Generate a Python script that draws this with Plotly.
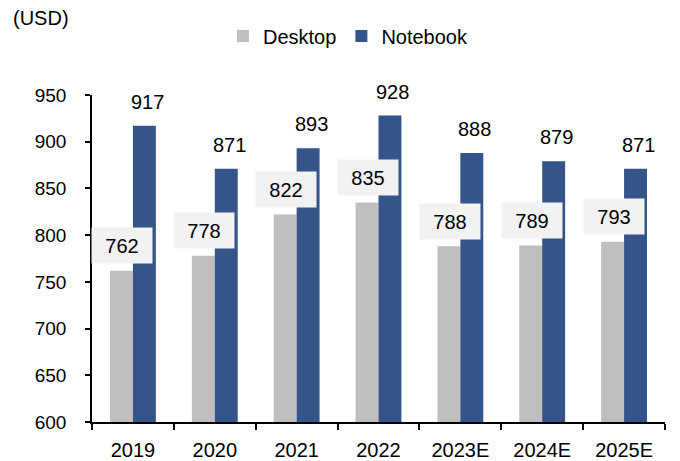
import plotly.graph_objects as go

categories = ["2019", "2020", "2021", "2022", "2023E", "2024E", "2025E"]
desktop = [762, 778, 822, 835, 788, 789, 793]
notebook = [917, 871, 893, 928, 888, 879, 871]
yticks = [600, 650, 700, 750, 800, 850, 900, 950]

FONT = "Liberation Sans, Arial, sans-serif"
C_DESK = "#bfbfbf"
C_NOTE = "#34548a"
BW = 0.28

xs = list(range(len(categories)))

fig = go.Figure()
fig.add_trace(go.Bar(name="Desktop", x=xs, y=desktop, marker_color=C_DESK,
                     marker_line_width=0, width=BW, offset=-BW))
fig.add_trace(go.Bar(name="Notebook", x=xs, y=notebook, marker_color=C_NOTE,
                     marker_line_width=0, width=BW, offset=0))

plot_l, plot_r, plot_t, plot_b = 92, 665, 95, 422
pw, ph = plot_r - plot_l, plot_b - plot_t

ann = []
for i, v in zip(xs, desktop):
    ann.append(dict(x=i - BW / 2, y=v, xref="x", yref="y", text=str(v), showarrow=False,
                    xshift=1, yshift=25, yanchor="middle", xanchor="center",
                    bgcolor="#f2f2f2", width=58, height=33,
                    font=dict(size=20, color="black", family=FONT)))
for i, v in zip(xs, notebook):
    ann.append(dict(x=i + BW / 2, y=v, xref="x", yref="y", text=str(v), showarrow=False,
                    xshift=3, yshift=24, yanchor="middle", xanchor="center",
                    font=dict(size=20, color="black", family=FONT)))
ann.append(dict(x=(11 - plot_l) / pw, y=(plot_b - 18) / ph, xref="paper", yref="paper",
                text="(USD)", showarrow=False, xanchor="left", yanchor="middle",
                font=dict(size=20, color="black", family=FONT)))

fig.update_layout(
    width=680, height=461,
    margin=dict(l=plot_l, r=680 - plot_r, t=plot_t, b=461 - plot_b, pad=0,
                autoexpand=False),
    paper_bgcolor="white", plot_bgcolor="white",
    font=dict(family=FONT, size=20, color="black"),
    showlegend=True,
    legend=dict(orientation="h", xref="container", yref="container",
                x=348 / 680, xanchor="center",
                y=1 - 36 / 461, yanchor="middle",
                font=dict(size=20, family=FONT),
                itemwidth=30, bgcolor="rgba(0,0,0,0)"),
    annotations=ann,
)
fig.update_xaxes(range=[-0.5, len(categories) - 0.5], tickvals=xs, ticktext=categories,
                 showline=True, linecolor="black", linewidth=1.5, automargin=False,
                 ticks="", showgrid=False, zeroline=False,
                 ticklabelstandoff=9, tickfont=dict(size=20),
                 minor=dict(tickvals=[i - 0.5 for i in range(len(categories) + 1)],
                            ticks="outside", ticklen=6, tickcolor="black", tickwidth=1.5,
                            showgrid=False))
fig.update_yaxes(range=[600, 950], tickvals=yticks, showline=True, linecolor="black",
                 linewidth=1.5, ticks="outside", ticklen=5, tickcolor="black",
                 tickwidth=1.5, showgrid=False, zeroline=False, automargin=False,
                 ticklabelstandoff=15, tickfont=dict(size=19))

fig.write_html("out.html", config={"displayModeBar": False},
               post_script="document.body.style.margin='0';document.body.style.overflow='hidden';")
